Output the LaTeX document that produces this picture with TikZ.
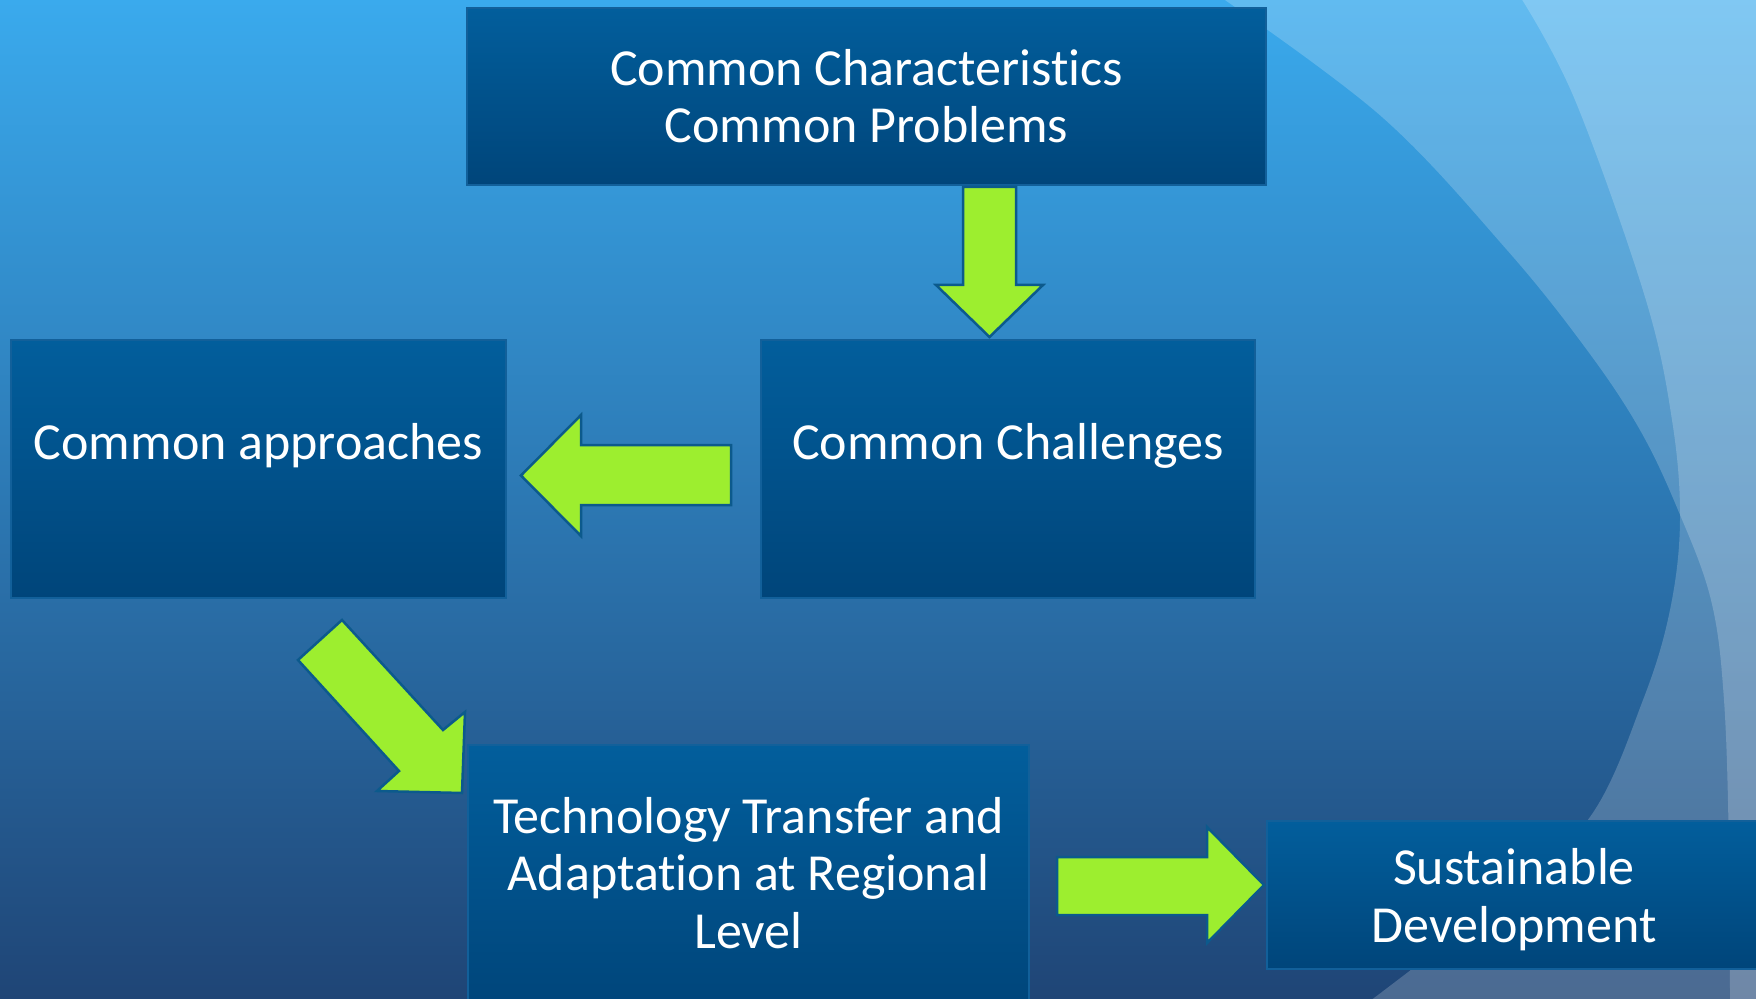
\documentclass[tikz,border=0pt]{standalone}
\usepackage{fontspec}
\setmainfont{Carlito}[Ligatures=NoCommon]
\usetikzlibrary{fit}
\definecolor{bgtop}{HTML}{3AAAED}
\definecolor{bgmid}{HTML}{2C78B3}
\definecolor{bgbot}{HTML}{1F4576}
\definecolor{boxtop}{HTML}{025E9C}
\definecolor{boxbot}{HTML}{00457A}
\definecolor{boxline}{HTML}{12609A}
\definecolor{lime}{HTML}{9DEE2F}
\definecolor{arrline}{HTML}{0C5A8C}
\begin{document}
\begin{tikzpicture}[x=0.4pt,y=-0.4pt,
 box/.style={draw=boxline, line width=0.8pt, top color=boxtop, bottom color=boxbot, inner sep=0pt},
 txt/.style={text=white, font=\fontsize{20.8pt}{23pt}\selectfont, align=center, anchor=base},
 blockarrow/.style={fill=lime, draw=arrline, line width=1pt, line join=miter}]
\useasboundingbox (0,0) rectangle (1756,999);
\shade[top color=bgtop, bottom color=bgbot, middle color=bgmid] (0,0) rectangle (1756,999);
\begin{scope}
\clip (0,0) rectangle (1756,999);
\fill[white, opacity=0.2] plot[smooth, tension=0.6] coordinates {(1222,-2) (1382,117) (1507,250) (1587,350) (1640,430) (1678,510) (1711,600) (1724,700) (1729,850) (1730,1001)} -- (1760,1001) -- (1760,-2) -- cycle;
\fill[white, opacity=0.2] plot[smooth, tension=0.6] coordinates {(1521,-2) (1575,100) (1645,297) (1672,420) (1680,520) (1670,610) (1643,700) (1590,817) (1500,900) (1370,1001)} -- (1760,1001) -- (1760,-2) -- cycle;
\end{scope}
% boxes
\node[box, fit={(467,8) (1266,185)}] (top) {};
\node[box, fit={(11,340) (506,598)}] (appr) {};
\node[box, fit={(761,340) (1255,598)}] (chal) {};
\node[box, fit={(468,745) (1029,1010)}] (tech) {};
\node[box, fit={(1267,821) (1762,969)}] (sust) {};
% texts (base anchor = last line's baseline)
\node[txt] (toptxt) at (866.5,143) {Common Characteristics\\Common Problems};
\node[txt] (apprtxt) at (258.5,459) {Common approaches};
\node[txt] (chaltxt) at (1008,459) {Common Challenges};
\node[txt] (techtxt) at (748.5,948) {Technology Transfer and\\Adaptation at Regional\\Level};
\node[txt] (susttxt) at (1514,942) {Sustainable\\Development};
% block arrows
\draw[blockarrow] (963,187) -- (1016,187) -- (1016,285) -- (1043,285) -- (989.5,337) -- (936,285) -- (963,285) -- cycle;
\draw[blockarrow] (731,445) -- (731,505) -- (581,505) -- (581,536) -- (521,475.5) -- (581,415) -- (581,445) -- cycle;
\draw[blockarrow] (298,660) -- (342,620) -- (443,730) -- (465,712) -- (462,793) -- (377,791) -- (399,771) -- cycle;
\draw[blockarrow] (1057,857) -- (1207,857) -- (1207,827) -- (1264,885) -- (1207,943) -- (1207,915) -- (1057,915) -- cycle;
\end{tikzpicture}
\end{document}
